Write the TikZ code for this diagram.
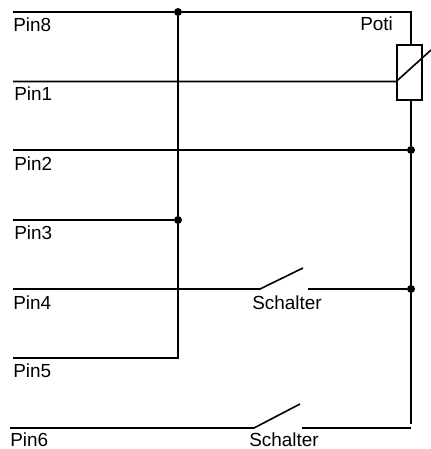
\documentclass[tikz,border=0pt]{standalone}
\usepackage{fontspec}
\setmainfont{Liberation Sans}
\usetikzlibrary{positioning}

\begin{document}
\begin{tikzpicture}[x=0.75pt,y=-0.75pt]
    \tikzset{wire/.style= {draw, line width=1.2pt, line cap=butt
      },
      pinlabel/.style= {inner sep=0pt, anchor=base west
      , font=\fontsize{14.2pt}{16pt}\selectfont
      },
      junction/.style= {circle, fill=black, inner sep=0pt
      , minimum size=6pt
      },
      poti/.style= {draw, rectangle, line width=1.2pt, inner sep=0pt
      , minimum width=18.75pt, minimum height=41.25pt
      }
    }
\useasboundingbox (0,0) rectangle (431,449);

\node [poti] (poti) at (409.5,72.5) {};
\node [pinlabel] (potilabel) at (360,31) {Poti};

\node [junction] (top) at (178,12) {};
\node [junction] (mid) at (178,220) {};
\node [junction] (j2) at (411,150) {};
\node [junction] (j4) at (411,289) {};

\coordinate (pin8) at (13,12);
\coordinate (pin1) at (13,81.5);
\coordinate (pin2) at (13,150);
\coordinate (pin3) at (13,220);
\coordinate (pin4) at (13,289);
\coordinate (pin5) at (13,358);
\coordinate (pin6) at (10,428);

\node [pinlabel] (label8) at (13,32) {Pin8};
\node [pinlabel] (label1) at (14,101) {Pin1};
\node [pinlabel] (label2) at (14,170.5) {Pin2};
\node [pinlabel] (label3) at (14,239.5) {Pin3};
\node [pinlabel] (label4) at (13,309) {Pin4};
\node [pinlabel] (label5) at (13,377) {Pin5};
\node [pinlabel] (label6) at (10,446) {Pin6};
\node [pinlabel] (schalter1) at (252,309) {Schalter};
\node [pinlabel] (schalter2) at (249,446) {Schalter};

\coordinate (corner) at (411,12);
\coordinate (potitop) at (411,45);
\coordinate (potibottom) at (411,100);
\coordinate (railend) at (411,424);
\coordinate (rail6) at (411,428);
\coordinate (wiper) at (431,50);
\coordinate (sw4a) at (260,289);
\coordinate (sw4b) at (303,268);
\coordinate (sw4c) at (308,289);
\coordinate (sw6a) at (254,428);
\coordinate (sw6b) at (300,404);
\coordinate (sw6c) at (302,428);
\coordinate (bus5) at (178,358);

\path[wire]
  (pin8) -- (top) -- (corner) -- (potitop);
\path[wire]
  (potibottom) -- (j2) -- (j4) -- (railend);
\path[wire]
  (top) -- (mid) -- (bus5) -- (pin5);
\path[wire]
  (pin1) -- (poti.west |- pin1) -- (wiper);
\path[wire] (pin2) -- (j2);
\path[wire] (pin3) -- (mid);
\path[wire] (pin4) -- (sw4a) -- (sw4b);
\path[wire] (sw4c) -- (j4);
\path[wire] (pin6) -- (sw6a) -- (sw6b);
\path[wire] (sw6c) -- (rail6);
\end{tikzpicture}
\end{document}
